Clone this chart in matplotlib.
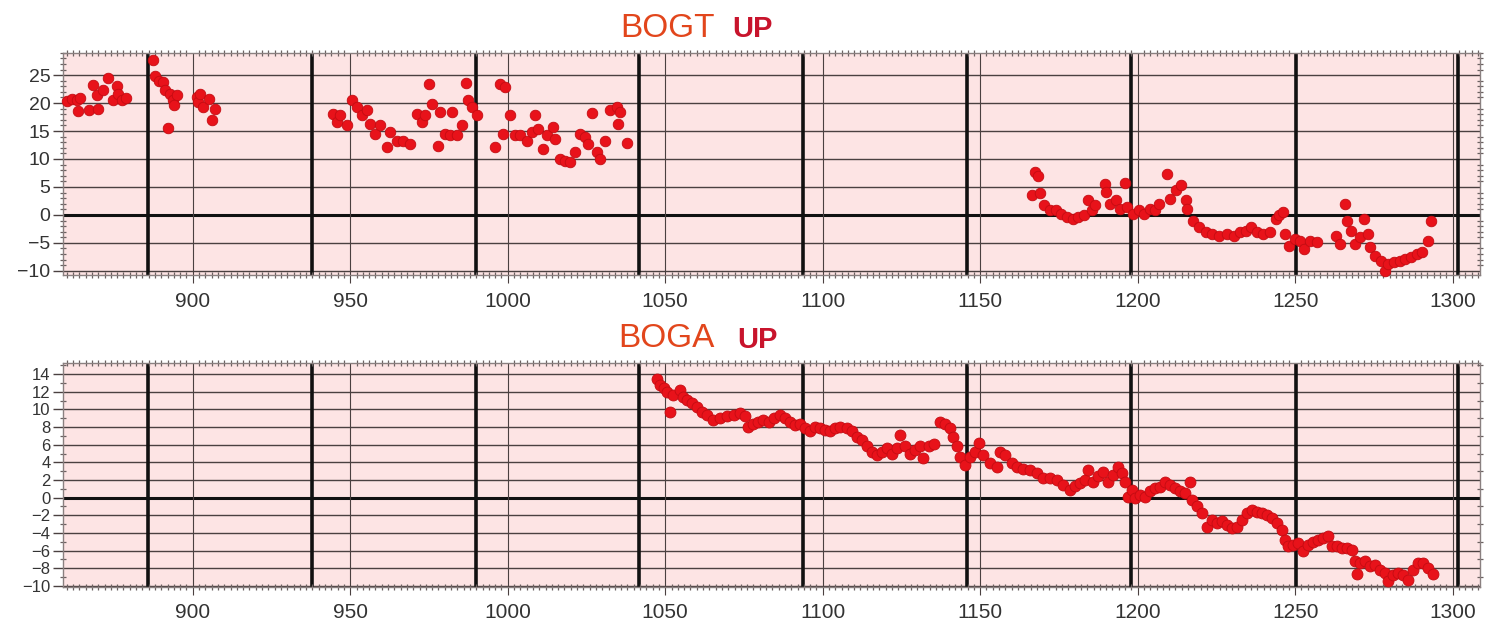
import matplotlib
matplotlib.use("Agg")
import matplotlib.pyplot as plt
from matplotlib.ticker import MultipleLocator

# GPS week and vertical displacement (mm) for station BOGT
bogt_week = [
    860.0, 861.6, 863.2, 863.4, 864.2, 867.2, 868.4, 869.5, 870.0, 871.6,
    873.2, 874.8, 875.9, 876.4, 877.5, 878.8,
    887.5, 888.0, 889.4, 890.5, 891.2, 892.1, 892.8, 893.8, 894.9, 894.1,
    901.3, 901.8, 902.3, 903.4, 905.0, 906.0, 907.1,
    944.6, 945.7, 946.8, 948.9, 950.5, 952.1, 953.7, 955.2, 956.3, 957.9,
    959.5, 961.6, 962.6, 964.8, 966.9, 969.0, 971.1, 972.7, 973.7, 975.1,
    975.9, 978.0, 978.5, 980.1, 981.7, 982.2, 983.8, 985.4, 986.8, 987.5,
    988.6, 990.2, 996.0, 997.6, 999.1, 998.6, 1000.7, 1002.3, 1003.9, 1006.0,
    1007.6, 1008.7, 1009.7, 1011.3, 1012.4, 1014.5, 1015.0, 1016.6, 1018.2,
    1019.8, 1021.4, 1023.0, 1024.5, 1025.6, 1026.7, 1028.3, 1029.3, 1030.9,
    1032.5, 1034.6, 1035.6, 1035.1, 1037.8,
    1167.5, 1168.4, 1166.3, 1168.9, 1170.4, 1172.2, 1174.0, 1175.8, 1177.6,
    1179.4, 1181.2, 1183.0, 1184.2, 1185.4, 1186.5, 1189.5, 1190.1, 1191.3,
    1193.1, 1194.3, 1196.1, 1196.7, 1198.5, 1200.3, 1202.1, 1203.9, 1205.6,
    1206.8, 1209.2, 1210.4, 1212.2, 1213.8, 1215.2, 1215.8, 1217.6, 1219.4,
    1221.8, 1223.5, 1225.9, 1228.3, 1230.7, 1232.5, 1234.3, 1236.1, 1237.9,
    1239.7, 1242.1, 1243.8, 1245.0, 1246.0, 1246.8, 1248.0, 1249.8, 1251.6,
    1252.8, 1254.6, 1256.9, 1262.9, 1264.1, 1265.9, 1266.5, 1267.7, 1268.9,
    1270.7, 1271.9, 1273.1, 1273.7, 1275.5, 1277.3, 1278.4, 1279.6, 1281.4,
    1283.2, 1285.0, 1286.8, 1288.6, 1290.4, 1292.2, 1293.0,
]
bogt_up = [
    20.4, 20.8, 20.5, 18.5, 20.9, 18.8, 23.3, 21.4, 19.0, 22.3,
    24.5, 20.5, 23.0, 21.7, 20.6, 20.9,
    27.7, 24.8, 24.0, 23.7, 22.3, 15.5, 21.7, 20.5, 21.4, 19.6,
    21.1, 20.2, 21.7, 19.3, 20.8, 16.9, 19.0,
    18.1, 16.6, 17.8, 16.0, 20.5, 19.3, 17.8, 18.7, 16.3, 14.5,
    16.0, 12.1, 14.8, 13.3, 13.3, 12.7, 18.1, 16.6, 17.8, 23.4,
    19.9, 12.4, 18.4, 14.5, 14.2, 18.4, 14.2, 16.0, 23.6, 20.5,
    19.3, 17.8, 12.1, 23.4, 22.8, 14.5, 17.8, 14.2, 14.2, 13.3,
    14.8, 17.8, 15.4, 11.8, 14.2, 15.7, 13.6, 10.0, 9.7,
    9.4, 11.2, 14.5, 13.9, 12.7, 18.2, 11.2, 10.0, 13.3,
    18.7, 19.3, 18.4, 16.3, 12.8,
    7.6, 6.9, 3.5, 3.9, 1.7, 0.9, 0.8, 0.2, -0.4,
    -0.7, -0.4, -0.1, 2.6, 0.8, 1.7, 5.5, 4.1, 2.0,
    2.6, 1.1, 5.7, 1.4, 0.2, 0.8, 0.2, 1.1, 0.8,
    2.0, 7.3, 2.9, 4.4, 5.3, 2.6, 1.1, -1.0, -2.2,
    -3.1, -3.4, -3.7, -3.4, -3.7, -3.1, -2.8, -2.2, -3.1,
    -3.4, -3.1, -0.7, -0.1, 0.5, -3.4, -5.5, -4.3, -4.6,
    -6.1, -4.6, -4.9, -3.7, -5.2, 2.0, -1.0, -2.8, -5.2,
    -4.0, -0.7, -3.4, -5.8, -7.3, -8.2, -10.0, -8.8, -8.5,
    -8.2, -7.9, -7.6, -7.0, -6.7, -4.6, -1.1,
]

# GPS week and vertical displacement (mm) for station BOGA
boga_week = [
    1047.3, 1048.4, 1049.5, 1050.5, 1051.6, 1052.6, 1054.7, 1055.8, 1056.9,
    1058.4, 1060.0, 1061.6, 1063.2, 1065.3, 1067.4, 1069.6, 1071.7, 1073.8,
    1075.4, 1076.4, 1078.0, 1079.6, 1081.2, 1082.8, 1084.4, 1086.5, 1088.1,
    1089.7, 1091.3, 1092.8, 1094.4, 1096.0, 1097.6, 1099.2, 1100.8, 1102.4,
    1104.0, 1105.5, 1107.7, 1109.2, 1110.8, 1112.4, 1114.0, 1115.6, 1117.2,
    1118.8, 1120.4, 1122.0, 1123.5, 1124.6, 1126.2, 1127.8, 1129.3, 1130.9,
    1132.0, 1133.6, 1135.2, 1137.3, 1138.9, 1140.5, 1141.5, 1142.6, 1143.6,
    1145.2, 1146.8, 1148.4, 1149.5, 1151.0, 1153.2, 1155.3,
    1156.3, 1157.9, 1160.0, 1161.6, 1163.7, 1165.8, 1168.0, 1170.1, 1172.2,
    1174.3, 1176.4, 1178.5, 1180.1, 1181.7, 1183.3, 1184.3, 1185.9, 1187.5,
    1189.1, 1190.7, 1192.3, 1193.9, 1194.9, 1196.0, 1197.0, 1198.1, 1199.2,
    1200.7, 1202.3, 1203.9, 1205.5, 1207.1, 1208.7, 1210.3, 1211.9, 1213.4,
    1215.0, 1216.6, 1217.1, 1218.7, 1220.3, 1221.9, 1223.5, 1225.1, 1226.7,
    1228.3, 1229.8, 1231.4, 1233.0, 1234.6, 1236.2, 1237.8, 1239.4, 1241.0,
    1242.5, 1244.1, 1245.7, 1246.8, 1247.8, 1249.4, 1251.0, 1252.6, 1254.2,
    1255.8, 1257.4, 1258.9, 1260.5, 1261.6, 1263.2, 1264.8, 1266.4, 1268.0,
    1269.0, 1269.5, 1270.6, 1272.2, 1273.8, 1275.3, 1276.9, 1278.5, 1279.6,
    1281.2, 1282.7, 1284.3, 1285.9, 1287.5, 1289.1, 1290.7, 1292.3, 1293.9,
]
boga_up = [
    13.5, 12.8, 12.4, 12.0, 9.7, 11.6, 12.2, 11.4, 11.1,
    10.7, 10.3, 9.7, 9.4, 8.8, 9.0, 9.2, 9.4, 9.6,
    9.2, 8.0, 8.4, 8.6, 8.8, 8.6, 9.0, 9.4, 9.0,
    8.6, 8.2, 8.4, 7.9, 7.5, 8.0, 7.9, 7.7, 7.5,
    7.9, 8.0, 7.9, 7.5, 6.9, 6.5, 5.8, 5.2, 4.8,
    5.2, 5.6, 5.0, 5.6, 7.1, 5.8, 5.0, 5.4, 5.8,
    4.5, 5.8, 6.1, 8.6, 8.4, 7.9, 6.9, 5.8, 4.6,
    3.7, 4.6, 5.2, 6.2, 4.8, 3.9, 3.5,
    5.2, 4.8, 3.9, 3.5, 3.3, 3.1, 2.8, 2.2, 2.2,
    2.0, 1.4, 0.9, 1.3, 1.6, 2.0, 3.1, 1.8, 2.4,
    2.9, 1.8, 2.6, 3.5, 2.8, 1.8, 0.1, 0.9, -0.1,
    0.3, 0.1, 0.7, 1.1, 1.2, 1.8, 1.4, 1.1, 0.7,
    0.5, 1.8, -0.3, -1.0, -1.8, -3.3, -2.5, -2.9, -2.7,
    -3.1, -3.5, -3.3, -2.5, -1.8, -1.4, -1.6, -1.8, -2.0,
    -2.3, -2.9, -3.7, -4.8, -5.5, -5.4, -5.2, -6.1, -5.4,
    -5.0, -4.8, -4.6, -4.4, -5.5, -5.5, -5.7, -5.7, -5.9,
    -7.2, -8.7, -7.4, -7.2, -7.8, -7.6, -8.2, -8.6, -9.5,
    -8.8, -8.6, -8.8, -9.3, -8.2, -7.4, -7.4, -8.0, -8.7,
]

# Start of each calendar year, in GPS weeks
year_starts = [885.8, 938.0, 989.9, 1041.8, 1093.8, 1145.8, 1198.0, 1250.3, 1301.6]

x_ticks = [900, 950, 1000, 1050, 1100, 1150, 1200, 1250, 1300]
bogt_yticks = [-10, -5, 0, 5, 10, 15, 20, 25]
boga_yticks = [-10, -8, -6, -4, -2, 0, 2, 4, 6, 8, 10, 12, 14]

plt.rcParams['font.family'] = ['Liberation Sans', 'DejaVu Sans']

BG = '#fde4e4'
GRID = '#4a4040'
DOT = '#e8121a'
EDGE = '#c40c12'

fig = plt.figure(figsize=(14.9, 6.24), dpi=100)
fig.patch.set_facecolor('white')

ax_top = fig.add_axes([0.0423, 0.5588, 0.951, 0.3567])
ax_bot = fig.add_axes([0.0423, 0.0598, 0.951, 0.3590])


def style_panel(ax, yticks, ylim, ylabel_size):
    ax.set_facecolor(BG)
    ax.set_xlim(858.8, 1308.7)
    ax.set_ylim(*ylim)
    ax.set_xticks(x_ticks)
    ax.set_yticks(yticks)
    ax.xaxis.set_minor_locator(MultipleLocator(2))
    ax.yaxis.set_minor_locator(MultipleLocator(1))
    for yt in yticks:
        if yt == 0:
            ax.axhline(0, color='#111111', lw=2.2, zorder=1)
        else:
            ax.axhline(yt, color=GRID, lw=1.0, zorder=1)
    for xt in x_ticks:
        ax.axvline(xt, color=GRID, lw=0.8, zorder=1)
    for ys in year_starts:
        ax.axvline(ys, color='#111111', lw=2.6, zorder=1)
    for s in ax.spines.values():
        s.set_color('#8a8080')
        s.set_linewidth(1.0)
    ax.tick_params(axis='x', which='major', direction='out', length=6,
                   width=0.8, color=GRID, labelsize=15, labelcolor='#333333',
                   pad=6, top=False)
    ax.tick_params(axis='x', which='minor', direction='inout', length=5,
                   width=0.9, color='#6a6060', top=True, bottom=True)
    ax.tick_params(axis='y', which='major', direction='out', length=7,
                   width=1.0, color=GRID, labelcolor='#333333', pad=2,
                   labelsize=ylabel_size)
    ax.tick_params(axis='y', which='minor', direction='inout', length=5,
                   width=0.9, color='#6a6060', left=True, right=True)


style_panel(ax_top, bogt_yticks, (-10.8, 29.0), 14)
style_panel(ax_bot, boga_yticks, (-10.1, 15.3), 12)

ax_top.scatter(bogt_week, bogt_up, s=58, color=DOT, edgecolors=EDGE,
               linewidths=0.6, zorder=3, clip_on=False)
ax_bot.scatter(boga_week, boga_up, s=62, color=DOT, edgecolors=EDGE,
               linewidths=0.6, zorder=3, clip_on=False)

# Panel titles: station name and component
fig.text(0.4161, 0.9407, 'BOGT', color='#e2461c', fontsize=24, ha='left',
         va='baseline')
fig.text(0.4912, 0.9407, 'UP', color='#c8142c', fontsize=21,
         fontweight='bold', ha='left', va='baseline')
fig.text(0.4148, 0.4439, 'BOGA', color='#e2461c', fontsize=24, ha='left',
         va='baseline')
fig.text(0.4946, 0.4423, 'UP', color='#c8142c', fontsize=21,
         fontweight='bold', ha='left', va='baseline')

fig.savefig('out.png', dpi=100, facecolor='white')
